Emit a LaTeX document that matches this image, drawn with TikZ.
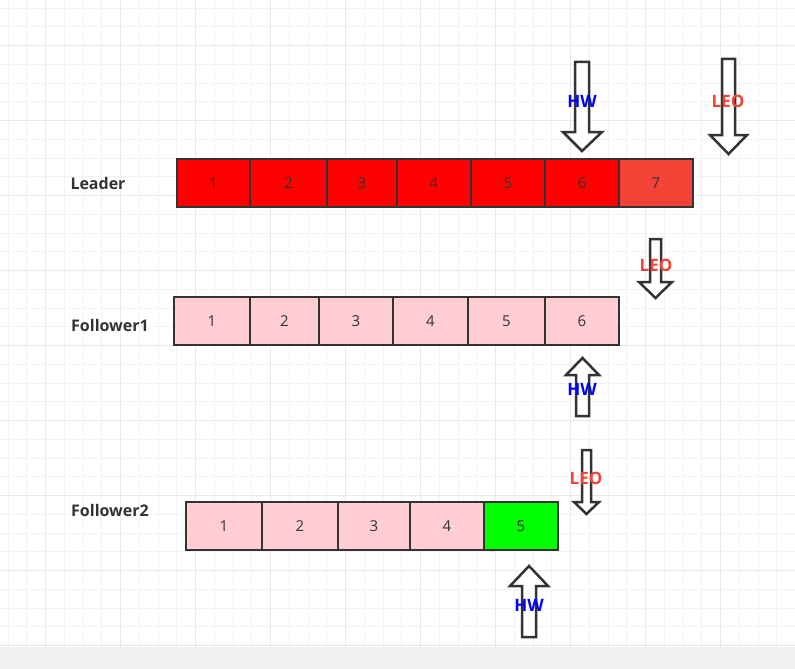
\documentclass[tikz,border=0pt]{standalone}
\usepackage{fontspec}
\setmainfont{Open Sans}
\definecolor{gridminor}{HTML}{F2F2F2}
\definecolor{gridmajor}{HTML}{E9E9E9}
\definecolor{edge}{HTML}{333333}
\definecolor{leadred}{HTML}{FF0000}
\definecolor{leadlast}{HTML}{F44336}
\definecolor{pinkbox}{HTML}{FFCDD2}
\definecolor{greenbox}{HTML}{00FF00}
\definecolor{hwblue}{HTML}{0000FF}
\definecolor{leored}{HTML}{F44336}
\definecolor{barbg}{HTML}{F0F0F0}
\tikzset{
  cell/.style={draw=edge, line width=2.5pt, minimum height=48pt, inner sep=0pt, text=edge, font=\fontsize{15pt}{15pt}\selectfont},
  rowlabel/.style={text=edge, font=\fontsize{16pt}{16pt}\selectfont\bfseries},
  bigarrow/.style={draw=edge, fill=white, line width=2.5pt, line join=miter},
  hwlabel/.style={text=hwblue, font=\fontsize{17pt}{17pt}\selectfont\bfseries},
  leolabel/.style={text=leored, font=\fontsize{17pt}{17pt}\selectfont\bfseries},
}
\begin{document}
\begin{tikzpicture}[x=1pt,y=-1pt]
\useasboundingbox (0,0) rectangle (795,669);
\fill[white] (0,0) rectangle (795,669);
% grid
\foreach \k in {0,...,42} {
  \draw[gridminor, line width=1pt] ({8.2+18.75*\k},0) -- ({8.2+18.75*\k},647);
}
\foreach \k in {0,...,34} {
  \draw[gridminor, line width=1pt] (0,{8.2+18.75*\k}) -- (795,{8.2+18.75*\k});
}
\foreach \k in {0,...,10} {
  \draw[gridmajor, line width=1.4pt] ({45.7+75*\k},0) -- ({45.7+75*\k},647);
}
\foreach \k in {0,...,8} {
  \draw[gridmajor, line width=1.4pt] (0,{45.7+75*\k}) -- (795,{45.7+75*\k});
}
\fill[barbg] (0,647) rectangle (795,669);

% row labels
\node[rowlabel] (leader) at (98,183) {Leader};
\node[rowlabel] (follower1) at (110,325) {Follower1};
\node[rowlabel] (follower2) at (110,510) {Follower2};

% Leader log
\node[cell, fill=leadred, minimum width=73pt] (l1) at (213.5,183) {1};
\node[cell, fill=leadred, minimum width=77pt] (l2) at (288.5,183) {2};
\node[cell, fill=leadred, minimum width=70pt] (l3) at (362,183) {3};
\node[cell, fill=leadred, minimum width=74pt] (l4) at (434,183) {4};
\node[cell, fill=leadred, minimum width=74pt] (l5) at (508,183) {5};
\node[cell, fill=leadred, minimum width=74pt] (l6) at (582,183) {6};
\node[cell, fill=leadlast, minimum width=74pt] (l7) at (656,183) {7};

% Follower1 log
\node[cell, fill=pinkbox, minimum width=76pt] (a1) at (212,321) {1};
\node[cell, fill=pinkbox, minimum width=69pt] (a2) at (284.5,321) {2};
\node[cell, fill=pinkbox, minimum width=74pt] (a3) at (356,321) {3};
\node[cell, fill=pinkbox, minimum width=75pt] (a4) at (430.5,321) {4};
\node[cell, fill=pinkbox, minimum width=77pt] (a5) at (506.5,321) {5};
\node[cell, fill=pinkbox, minimum width=74pt] (a6) at (582,321) {6};

% Follower2 log
\node[cell, fill=pinkbox, minimum width=76pt] (b1) at (224,526) {1};
\node[cell, fill=pinkbox, minimum width=76pt] (b2) at (300,526) {2};
\node[cell, fill=pinkbox, minimum width=72pt] (b3) at (374,526) {3};
\node[cell, fill=pinkbox, minimum width=74pt] (b4) at (447,526) {4};
\node[cell, fill=greenbox, minimum width=74pt] (b5) at (521,526) {5};

% arrows
\draw[bigarrow] (575,62) -- (589,62) -- (589,132) -- (602,132) -- (582,151) -- (563,132) -- (575,132) -- cycle;
\draw[bigarrow] (722,59) -- (735,59) -- (735,135) -- (747,135) -- (728.5,154) -- (710,135) -- (722,135) -- cycle;
\draw[bigarrow] (650,239) -- (661,239) -- (661,282) -- (672,282) -- (655.5,298) -- (639,282) -- (650,282) -- cycle;
\draw[bigarrow] (576,416) -- (589,416) -- (589,375) -- (599,375) -- (582.5,358) -- (566,375) -- (576,375) -- cycle;
\draw[bigarrow] (582,450) -- (591,450) -- (591,502) -- (599,502) -- (586.5,514) -- (574,502) -- (582,502) -- cycle;
\draw[bigarrow] (522,637) -- (536,637) -- (536,586) -- (548,586) -- (529,566) -- (510,586) -- (522,586) -- cycle;

% pointer labels
\node[hwlabel] (hw0) at (582,101) {HW};
\node[leolabel] (leo0) at (728,101) {LEO};
\node[leolabel] (leo1) at (656,265) {LEO};
\node[hwlabel] (hw1) at (582,389) {HW};
\node[leolabel] (leo2) at (586,478) {LEO};
\node[hwlabel] (hw2) at (529,605) {HW};
\end{tikzpicture}
\end{document}
